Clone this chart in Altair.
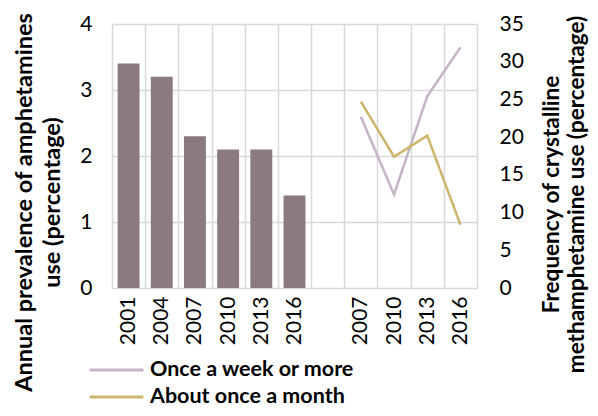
import altair as alt
import pandas as pd

bar_years = ["2001", "2004", "2007", "2010", "2013", "2016"]
bar_values = [3.4, 3.2, 2.3, 2.1, 2.1, 1.4]

line_years = ["2007", "2010", "2013", "2016"]
weekly = [22.7, 12.4, 25.4, 31.9]
monthly = [24.7, 17.4, 20.2, 8.4]

series_names = ["Once a week or more", "About once a month"]
series_colors = ["#C4B4C6", "#CDB46C"]
bar_color = "#8B7A81"

FONT = "Lato"

# slot keys: bar slots, one empty slot, line slots (suffix "b" to keep them distinct)
bar_keys = bar_years
gap_key = "gap"
line_keys = [y + "b" for y in line_years]
domain = bar_keys + [gap_key] + line_keys

bars_df = pd.DataFrame({"slot": bar_keys, "value": bar_values})
lines_df = pd.DataFrame({
    "slot": line_keys * 2,
    "value": weekly + monthly,
    "series": [series_names[0]] * 4 + [series_names[1]] * 4,
})

x_enc = alt.X(
    "slot:N",
    scale=alt.Scale(domain=domain, paddingInner=0, paddingOuter=0),
    sort=domain,
    axis=alt.Axis(
        title=None,
        labelAngle=270,
        labelExpr="replace(replace(datum.label, 'b', ''), 'gap', '')",
        labelFont=FONT,
        labelFontSize=21,
        labelColor="#000000",
        labelPadding=8,
        tickBand="extent",
        ticks=False,
        domain=False,
        grid=True,
        gridColor="#D9D9D9",
        gridWidth=1.5,
    ),
)

bars = alt.Chart(bars_df).mark_bar(color=bar_color, width={"band": 0.66}).encode(
    x=x_enc,
    y=alt.Y(
        "value:Q",
        scale=alt.Scale(domain=[0, 4]),
        axis=alt.Axis(
            values=[0, 1, 2, 3, 4],
            title=["Annual prevalence of amphetamines", "use (percentage)"],
            titleFont=FONT,
            titleFontSize=23.5,
            titleFontWeight="bold",
            titleColor="#000000",
            titleAngle=270,
            titleBaseline="middle",
            titleAlign="center",
            titleLineHeight=28,
            titleX=-88,
            titleY=178,
            labelFont=FONT,
            labelFontSize=21,
            labelColor="#000000",
            labelPadding=20,
            ticks=False,
            domain=False,
            grid=True,
            gridColor="#D9D9D9",
            gridWidth=1.5,
        ),
    ),
)

lines = alt.Chart(lines_df).mark_line(strokeWidth=2.5).encode(
    x=alt.X("slot:N", sort=domain),
    y=alt.Y(
        "value:Q",
        scale=alt.Scale(domain=[0, 35]),
        axis=alt.Axis(
            orient="right",
            values=[0, 5, 10, 15, 20, 25, 30, 35],
            title=["Frequency of crystalline", "methamphetamine use (percentage)"],
            titleFont=FONT,
            titleFontSize=22.5,
            titleFontWeight="bold",
            titleColor="#000000",
            titleAngle=270,
            titleBaseline="middle",
            titleAlign="center",
            titleLineHeight=25,
            titleX=74,
            titleY=170,
            labelFont=FONT,
            labelFontSize=21,
            labelColor="#000000",
            labelPadding=22,
            ticks=False,
            domain=False,
            grid=False,
        ),
    ),
    color=alt.Color(
        "series:N",
        scale=alt.Scale(domain=series_names, range=series_colors),
        sort=series_names,
        legend=alt.Legend(
            title=None,
            orient="none",
            legendX=-24,
            legendY=336,
            direction="vertical",
            symbolType="stroke",
            symbolSize=2900,
            symbolStrokeWidth=3,
            clipHeight=20,
            labelFont=FONT,
            labelFontSize=21.5,
            labelFontWeight="bold",
            labelColor="#000000",
            labelOffset=5,
            labelLimit=0,
            rowPadding=5,
        ),
    ),
)

chart = (
    alt.layer(bars, lines)
    .resolve_scale(y="independent")
    .properties(
        width=365,
        height=264,
        autosize=alt.AutoSizeParams(type="none"),
        padding={"left": 104, "top": 16, "right": 113, "bottom": 120},
    )
    .configure_view(stroke=None)
)

chart.save("out.html", embed_options={"renderer": "svg", "actions": False})
